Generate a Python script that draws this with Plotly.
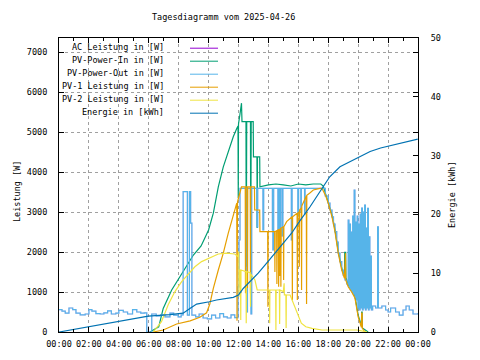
import plotly.graph_objects as go

DAY = "2025-04-26"
NEXT = "2025-04-27"

title_text = "Tagesdiagramm vom 2025-04-26"
series_names = ["AC Leistung in [W]", "PV-Power-In in [W]", "PV-Power-Out in [W]",
                "PV-1 Leistung in [W]", "PV-2 Leistung in [W]", "Energie in [kWh]"]
series_colors = ["#9400d3", "#009e73", "#56b4e9", "#e69f00", "#f0e442", "#0072b2"]

# PV-Power-Out [W]
pv_out_t = ["00:00","00:12","00:25","00:40","00:55","01:08","01:25","01:45","02:00","02:12","02:28","02:45",
            "03:00","03:15","03:30","03:48","04:00","04:18","04:35","04:55","05:12","05:28","05:42","05:52",
            "06:12","06:30","06:48","07:05","07:25","07:40","07:58","08:10","08:18","08:35","08:43","08:48",
            "08:53","09:08","09:22","09:38","09:55","10:12","10:28","10:45","11:00","11:15","11:30","11:45",
            "11:58","12:02","12:06","12:33","12:36","12:50","12:53","13:14","13:17","13:38","13:41","14:16",
            "14:18","14:21","14:38","14:41","14:45","14:49","14:55","14:58","15:32","15:35","15:58","16:01",
            "16:10","16:12","16:25","16:27","17:40","17:48","18:00","18:07","18:15","18:21","18:27","18:34",
            "18:40","18:47","18:54","19:00","19:07","19:14",
            "19:20","19:23","19:26","19:29","19:32","19:35","19:38","19:41","19:44","19:47","19:50","19:53",
            "19:56","19:59","20:02","20:05","20:08","20:11","20:14","20:17","20:20","20:23","20:26","20:29",
            "20:32","20:35","20:38","20:41","20:44","20:47","20:50","20:53","20:58","21:10","21:18","21:21",
            "21:35","21:50","22:00","22:10","22:30","22:45","23:00","23:12","23:25","23:40","23:59"]
pv_out_w = [560,520,470,600,560,470,430,450,560,520,460,450,
            480,530,450,470,540,500,450,560,500,470,480,0,
            450,400,430,380,470,420,380,430,3510,420,3510,2720,
            420,380,450,350,330,420,350,460,380,350,430,360,
            1130,2300,3590,500,3590,450,3590,2630,3590,2550,3590,2550,
            2050,3590,2500,3590,2100,3590,2400,3590,2300,3590,2900,3590,
            3000,3590,2950,3590,3590,3400,3220,3050,2880,2700,2510,2250,
            1970,1760,1550,1420,1300,1200,
            2800,1130,2700,1050,2500,1000,2900,950,3550,850,2750,800,
            2900,600,2700,550,2950,600,3100,550,3000,600,3175,550,
            2600,600,3090,550,2380,600,1900,550,650,600,2630,600,
            650,550,500,600,500,420,550,650,550,450,470]

# AC Leistung [W] (coincides with PV-Power-Out, hidden beneath it)
ac_t = list(pv_out_t)
ac_w = list(pv_out_w)

# PV-Power-In [W]
pv_in_t = ["06:05","06:40","06:58","07:32","08:05","08:25","08:59","09:30","10:00","10:19","10:39","10:59",
           "11:19","11:39","11:53","11:58","11:59","12:00","12:06","12:12","12:14","12:30","12:31","12:33",
           "12:48","12:49","12:51","12:59","13:00","13:14","13:15","13:16","13:25","13:26","14:00","14:30",
           "15:00","15:30","16:00","16:30","17:00","17:30","17:40","18:00","18:15","18:27","18:40","18:54",
           "19:05","19:06","19:10","19:11","19:20","19:34","19:47","20:00","20:10","20:13","20:14","20:16",
           "20:17","20:30","20:40"]
pv_in_w = [0,130,590,1050,1380,1590,1925,2150,2550,2970,3630,4130,
           4510,4880,5090,5150,3350,5200,5450,5720,5260,5260,1630,5260,
           5260,1630,5260,5260,4380,4380,2600,4380,4380,3630,3680,3700,
           3680,3650,3700,3680,3700,3700,3650,3270,2930,2560,2020,1600,
           1390,1990,1990,1350,1180,1050,900,420,150,150,500,500,
           100,30,0]

# PV-1 Leistung [W]
pv1_t = ["06:18","06:58","07:52","08:46","09:25","09:52","10:05","10:19","10:39","10:59","11:19","11:39",
         "11:53","11:54","11:56","12:00","12:08","12:12","12:27","12:28","12:29","12:35","12:36","12:37",
         "12:47","12:48","12:49","13:04","13:05","13:25","13:26","13:57","13:58","13:59","14:25","14:26",
         "14:27","14:33","14:34","14:35","14:40","14:41","14:42","14:45","14:46","14:47","14:49","14:50",
         "14:51","15:00","15:01","15:02","15:13","15:35","15:36","15:37","15:55","15:56","15:57","16:03",
         "16:04","16:05","16:12","16:13","16:14","16:32","16:33","16:34","16:45","17:00","17:27","17:35",
         "17:50","18:00","18:15","18:27","18:40","18:54","19:05","19:06","19:09","19:10","19:20","19:34",
         "19:47","20:00","20:10","20:13","20:14","20:16","20:17","20:27"]
pv1_w = [0,50,200,280,370,480,700,1090,1550,1970,2470,2880,
         3220,280,3250,3350,3500,3630,3630,970,3630,3630,1100,3630,
         3630,970,3630,3630,3050,3050,2510,2510,630,2510,2510,1500,
         2510,2530,1200,2530,2560,1130,2560,2570,1400,2570,2600,1130,
         2600,2630,1300,2630,2760,2880,800,2880,2970,800,2970,3000,
         1630,3050,3100,1050,3150,3400,700,3420,3470,3550,3590,3590,
         3400,3220,2880,2510,1970,1550,1340,1970,1970,1300,1130,1000,
         850,380,120,120,475,475,90,0]

# PV-2 Leistung [W]
pv2_t = ["06:18","06:51","07:18","07:45","08:12","08:38","09:05","09:32","10:03","10:39","11:12","11:45",
         "11:59","12:01","12:02","12:04","12:08","12:09","12:10","12:30","12:31","12:32","12:47","12:48",
         "12:49","13:06","13:15","14:04","14:05","14:06","14:29","14:30","14:31","14:44","14:45","14:46",
         "15:00","15:01","15:03","15:04","15:10","15:11","15:12","15:27","15:35","15:47","16:03","16:12",
         "16:30","16:55","17:35","19:55","20:30","20:36"]
pv2_w = [0,260,680,1010,1260,1430,1630,1760,1840,1950,1970,1950,
         1880,2010,880,1550,1550,300,1550,1510,220,1510,1480,630,
         1450,1300,1050,1050,220,1050,1050,50,1050,1050,200,1050,
         1010,1220,1220,930,930,100,930,925,800,630,380,220,
         130,90,50,50,10,0]

# Energie [kWh]
energy_t = ["00:00","01:58","04:11","05:58","07:25","08:18","08:45","09:12","10:03","10:32","11:39","12:00",
            "12:19","12:46","13:19","13:53","14:26","15:00","15:33","16:06","16:47","17:27","18:06","18:47",
            "19:27","20:07","20:48","21:30","22:10","23:00","23:59"]
energy_kwh = [0,0.9,1.9,2.7,2.95,3.2,4.0,4.75,5.15,5.44,5.9,6.3,
              7.4,8.55,10.0,11.7,13.4,15.1,16.8,18.9,21.3,23.9,26.4,28.1,
              29.0,29.8,30.7,31.3,31.7,32.3,32.8]


def stamp(times):
    return [f"{DAY} {t}" for t in times]


FONT = "DejaVu Sans Mono"
FS = 8.5
LW = 1.2

fig = go.Figure()
data = [
    (ac_t, ac_w, "y", "hv", 0.25),
    (pv_in_t, pv_in_w, "y", "linear", 1.0),
    (pv_out_t, pv_out_w, "y", "hv", 1.0),
    (pv1_t, pv1_w, "y", "linear", 1.0),
    (pv2_t, pv2_w, "y", "linear", 1.0),
    (energy_t, energy_kwh, "y2", "linear", 1.0),
]
for (t, v, ax, shape, op), name, col in zip(data, series_names, series_colors):
    fig.add_trace(go.Scatter(x=stamp(t), y=v, name=name, yaxis=ax, mode="lines", opacity=op,
                             line=dict(color=col, width=LW, shape=shape),
                             hoverinfo="skip", showlegend=False))

# plot area in pixels: left 59, right 418, top 38, bottom 332
L, R, T, B = 59, 418, 38, 332
W, H = 480, 360
pw, ph = R - L, B - T


def px_x(x):
    return (x - L) / pw


def px_y(y):
    return (B - y) / ph


axis_common = dict(showline=True, linecolor="black", linewidth=1, ticks="inside", ticklen=5,
                   tickcolor="black", tickfont=dict(family=FONT, size=FS, color="black"),
                   zeroline=False)

fig.update_layout(
    width=W, height=H,
    margin=dict(l=L, r=W - R, t=T, b=H - B),
    paper_bgcolor="white", plot_bgcolor="white",
    font=dict(family=FONT, size=FS, color="black"),
    xaxis=dict(type="date", range=[f"{DAY} 00:00", f"{NEXT} 00:00"], tick0=f"{DAY} 00:00",
               dtick=7200000, tickformat="%H:%M", mirror="ticks", showgrid=True,
               gridcolor="#a0a0a0", griddash="3px,3px", gridwidth=1, ticklabelstandoff=4,
               minor=dict(ticks="inside", ticklen=3, dtick=3600000, tickcolor="black", showgrid=False),
               **axis_common),
    yaxis=dict(range=[0, 7350], dtick=1000, tick0=0, mirror="ticks", showgrid=True,
               gridcolor="#a0a0a0", griddash="3px,3px", gridwidth=1, ticklabelstandoff=9,
               **axis_common),
    yaxis2=dict(range=[0, 50], dtick=10, tick0=0, overlaying="y", side="right", showgrid=False,
                ticklabelstandoff=10, **axis_common),
)

# title
fig.add_annotation(text=title_text, xref="paper", yref="paper", x=px_x(223.5), y=px_y(17),
                   xanchor="center", yanchor="middle", showarrow=False,
                   font=dict(family=FONT, size=FS, color="black"))

# axis titles
fig.add_annotation(text="Leistung [W]", xref="paper", yref="paper", x=px_x(17), y=px_y(192),
                   textangle=-90, showarrow=False, xanchor="center", yanchor="middle",
                   font=dict(family=FONT, size=FS, color="black"))
fig.add_annotation(text="Energie [kWh]", xref="paper", yref="paper", x=px_x(452), y=px_y(194),
                   textangle=-90, showarrow=False, xanchor="center", yanchor="middle",
                   font=dict(family=FONT, size=FS, color="black"))

# opaque key box (gnuplot style), above grid but below traces
fig.add_shape(type="rect", xref="paper", yref="paper", x0=0, x1=px_x(222), y0=px_y(117), y1=1,
              fillcolor="white", line=dict(width=0), layer="between")

# key entries: right-aligned text followed by line sample
row0, step = 46.7, 13.0
for i, (name, col) in enumerate(zip(series_names, series_colors)):
    yy = row0 + i * step
    fig.add_annotation(text=name, xref="paper", yref="paper", x=px_x(166), y=px_y(yy),
                       xanchor="right", yanchor="middle", showarrow=False,
                       font=dict(family=FONT, size=FS, color="black"))
    fig.add_shape(type="line", xref="paper", yref="paper", x0=px_x(190), x1=px_x(218),
                  y0=px_y(yy + 1.5), y1=px_y(yy + 1.5), line=dict(color=col, width=1), layer="above")

fig.write_html("out.html", config={"displayModeBar": False},
               post_script="document.body.style.margin='0';document.body.style.padding='0';")
